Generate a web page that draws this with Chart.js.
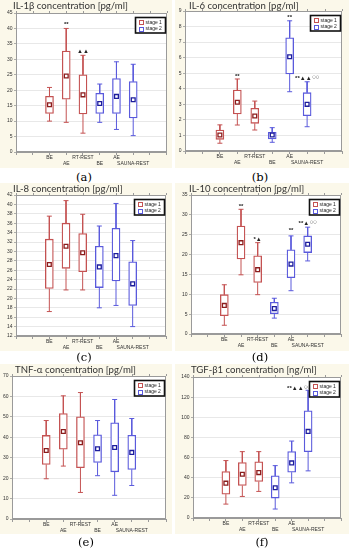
<!DOCTYPE html>
<html>
<head>
<meta charset="utf-8">
<script src="https://cdn.jsdelivr.net/npm/chart.js@4.4.1/dist/chart.umd.min.js"></script>
<style>
  html, body { margin: 0; padding: 0; background: #fff; }
  #fig { position: relative; width: 349px; height: 550px; overflow: hidden; }
  #fig canvas { position: absolute; }
  .ttl { position: absolute; font: 9.6px Lato, sans-serif; color: #333; white-space: nowrap; line-height: 11px; }
  .cap { position: absolute; width: 40px; margin-left: -20px; text-align: center; font: 11.5px "DejaVu Serif", serif; color: #000; line-height: 14px; }
</style>
</head>
<body>
<div id="fig"></div>
<script>
// groups on the x axis (same for every panel)
const groupLabels = ['BE', 'AE', 'RT-REST', 'BE', 'AE', 'SAUNA-REST'];
const groupPos = [2, 3, 4, 5, 6, 7];
const stageOf = [0, 0, 0, 1, 1, 1];
const stageNames = ['stage 1', 'stage 2'];

// every row: [low whisker, Q1, mean, Q3, high whisker]
const il1b = [[10, 12.5, 15.3, 18, 20.9], [9.6, 17.1, 24.6, 32.7, 40], [6.1, 12.3, 18.5, 25, 31.3],
              [9.6, 12.5, 15.7, 19, 22], [7.3, 12.5, 18, 23.8, 29.2], [5.3, 11, 16.9, 22.8, 28.4]];
const il6 = [[0.5, 0.75, 1.03, 1.35, 1.68], [1.67, 2.38, 3.13, 3.92, 4.63], [1.35, 1.78, 2.25, 2.74, 3.21],
             [0.56, 0.77, 1.03, 1.2, 1.5], [3.81, 4.95, 6.06, 7.28, 8.37], [1.56, 2.27, 3.0, 3.75, 4.45]];
const il8 = [[17.2, 22.1, 27.2, 32.6, 37.5], [21.8, 26.4, 31.1, 36.0, 40.8], [21.8, 25.7, 29.7, 33.8, 37.9],
             [18.0, 22.3, 26.7, 31.1, 35.4], [18.5, 23.7, 29.1, 34.9, 40.2], [14.0, 18.5, 23.1, 27.8, 32.3]];
const il10 = [[2.2, 4.6, 7.2, 9.9, 12.4], [14.9, 18.9, 23.0, 27.2, 31.4], [9.9, 13.0, 16.2, 19.7, 23.0],
              [4.0, 5.1, 6.4, 8.0, 9.0], [10.9, 14.2, 17.6, 21.2, 24.7], [18.4, 20.5, 22.6, 24.7, 26.9]];
const tnfa = [[19.7, 26.7, 33.5, 40.9, 48.2], [25.9, 34.2, 42.8, 51.6, 60.3], [13.0, 25.1, 37.3, 50.0, 61.9],
              [21.2, 27.7, 34.4, 41.2, 48.2], [11.6, 23.1, 35.0, 47.1, 58.5], [16.4, 24.3, 32.6, 41.0, 49.2]];
const tgfb1 = [[13.8, 23.7, 34.6, 46.1, 57.0], [21.4, 32.3, 43.5, 55.0, 65.9], [26.4, 36.2, 45.1, 55.7, 65.9],
               [8.9, 19.8, 30.0, 41.8, 52.0], [34.9, 45.5, 54.7, 65.9, 76.4], [46.8, 65.9, 86.0, 106.4, 126.8]];

// y axis: [min, max, step]
const il1bAxis = [0, 45, 5];
const il6Axis = [0, 9, 1];
const il8Axis = [12, 42, 2];
const il10Axis = [0, 35, 5];
const tnfaAxis = [0, 70, 10];
const tgfb1Axis = [0, 140, 20];

// significance marks: [x, y, text, superscript]
const il1bMarks = [[3, 41.3, '**', ''], [4, 32.6, '▲▲', '']];
const il6Marks = [[3, 4.8, '**', ''], [6, 8.6, '**', ''], [7, 4.65, '**▲▲', '○○']];
const il8Marks = [];
const il10Marks = [[3, 32.2, '**', ''], [4, 23.8, '*▲', ''], [6, 26.1, '**', ''], [7, 27.8, '**▲', '○○']];
const tnfaMarks = [];
const tgfb1Marks = [[6.45, 128.5, '**▲▲', '○○']];

const boxColors = ['#c45252', '#5a5adc'];
const meanColors = ['#8b1c1c', '#1c1c9c'];
const beige = '#fbf8ea';
const tickFont = { family: 'Liberation Sans', size: 5, lineHeight: 1.1 };

// canvas: [left, top, width, height], plot: [left, top, right, bottom] (page px)
const panels = [
  { title: 'IL-1β concentration [pg/ml]', cap: '(a)', stats: il1b, axis: il1bAxis, marks: il1bMarks,
    canvas: [0, 0, 172, 168], plot: [16, 13, 168, 152], titleAt: [13, 0], capAt: [84, 170] },
  { title: 'IL-6 concentration [pg/ml]', cap: '(b)', stats: il6, axis: il6Axis, marks: il6Marks,
    canvas: [175, 0, 174, 168], plot: [185, 11, 342, 151], titleAt: [189, 0], capAt: [260, 170] },
  { title: 'IL-8 concentration [pg/ml]', cap: '(c)', stats: il8, axis: il8Axis, marks: il8Marks,
    canvas: [0, 183, 172, 168], plot: [16, 195, 166, 336], titleAt: [13, 183], capAt: [84, 350] },
  { title: 'IL-10 concentration [pg/ml]', cap: '(d)', stats: il10, axis: il10Axis, marks: il10Marks,
    canvas: [175, 183, 174, 168], plot: [191, 195, 341, 334], titleAt: [189, 183], capAt: [260, 350] },
  { title: 'TNF-α concentration [pg/ml]', cap: '(e)', stats: tnfa, axis: tnfaAxis, marks: tnfaMarks,
    canvas: [0, 364, 172, 170], plot: [12, 376, 166, 519], titleAt: [15, 364], capAt: [86, 535] },
  { title: 'TGF-β1 concentration [ng/ml]', cap: '(f)', stats: tgfb1, axis: tgfb1Axis, marks: tgfb1Marks,
    canvas: [175, 364, 174, 170], plot: [193, 377, 341, 518], titleAt: [191, 364], capAt: [262, 535] }
];

const fig = document.getElementById('fig');

function xLabel(value) {
  const i = groupPos.indexOf(value);
  if (i < 0) return '';
  return i % 2 === 0 ? [groupLabels[i], ''] : ['', groupLabels[i]];
}

function buildDatasets(stats) {
  const sets = [];
  [0, 1].forEach(st => {
    const idx = stats.map((s, i) => i).filter(i => stageOf[i] === st);
    const col = boxColors[st];
    sets.push({
      type: 'bar', label: stageNames[st],
      data: idx.map(i => ({ x: groupPos[i], y: [stats[i][1], stats[i][3]] })),
      backgroundColor: '#fff', borderColor: col, borderWidth: 1.3, borderSkipped: false,
      barThickness: 8, grouped: false, order: 1
    });
    const whisk = [];
    const caps = [];
    idx.forEach(i => {
      const [lo, q1, , q3, hi] = stats[i];
      const x = groupPos[i];
      whisk.push({ x, y: hi }, { x, y: q3 }, { x, y: null }, { x, y: lo }, { x, y: q1 }, { x, y: null });
      caps.push({ x, y: hi }, { x, y: lo });
    });
    sets.push({
      type: 'line', label: '', data: whisk, borderColor: col, borderWidth: 1,
      pointRadius: 0, spanGaps: false, fill: false, order: 3
    });
    sets.push({
      type: 'line', label: '', data: caps, showLine: false, pointStyle: 'line',
      pointRadius: 2.5, pointBorderColor: col, pointBorderWidth: 1, order: 2
    });
    sets.push({
      type: 'line', label: '', data: idx.map(i => ({ x: groupPos[i], y: stats[i][2] })),
      showLine: false, pointStyle: 'rect', pointRadius: 2.7, pointBorderWidth: 1.3,
      pointBorderColor: meanColors[st], pointBackgroundColor: '#fff', order: 0
    });
  });
  return sets;
}

function makeFrame(p) {
  return {
    id: 'frame',
    beforeDraw(chart) {
      const { ctx, chartArea: a, width, height } = chart;
      ctx.save();
      ctx.fillStyle = beige;
      ctx.fillRect(0, 0, width, height);
      ctx.fillStyle = '#fff';
      ctx.fillRect(a.left, a.top, a.right - a.left, a.bottom - a.top);
      ctx.restore();
    },
    afterDraw(chart) {
      const { ctx, chartArea: a, scales } = chart;
      ctx.save();
      // frame round the plot
      ctx.strokeStyle = '#9a9a9a';
      ctx.lineWidth = 1;
      ctx.strokeRect(Math.round(a.left) + 0.5, Math.round(a.top) + 0.5,
        Math.round(a.right - a.left) - 1, Math.round(a.bottom - a.top) - 1);
      // small ticks on top edge
      for (let v = 0; v <= 9; v++) {
        const px = Math.round(scales.x.getPixelForValue(v)) + 0.5;
        ctx.beginPath();
        ctx.moveTo(px, a.top - 2);
        ctx.lineTo(px, a.top);
        ctx.stroke();
      }
      // significance marks
      ctx.fillStyle = '#222';
      ctx.textBaseline = 'middle';
      p.marks.forEach(([mx, my, txt, sup]) => {
        const mainFont = 'bold 6px "Liberation Sans", "DejaVu Sans", sans-serif';
        const supFont = '4px "DejaVu Sans", sans-serif';
        ctx.font = mainFont;
        const w1 = ctx.measureText(txt).width;
        ctx.font = supFont;
        const w2 = sup ? ctx.measureText(sup).width + 0.5 : 0;
        const cx = scales.x.getPixelForValue(mx);
        const cy = scales.y.getPixelForValue(my);
        const x0 = cx - (w1 + w2) / 2;
        ctx.textAlign = 'left';
        ctx.font = mainFont;
        ctx.fillText(txt, x0, cy);
        if (sup) {
          ctx.font = supFont;
          ctx.fillText(sup, x0 + w1 + 0.5, cy - 1.5);
        }
      });
      // legend box
      const bw = 30, bh = 15.5;
      const bx = Math.round(a.right - 2 - bw) + 0.5, by = Math.round(a.top + 4) + 0.5;
      ctx.fillStyle = '#fff';
      ctx.fillRect(bx, by, bw, bh);
      ctx.strokeStyle = '#111';
      ctx.lineWidth = 1.6;
      ctx.strokeRect(bx, by, bw, bh);
      ctx.font = '5px "Liberation Sans", sans-serif';
      ctx.textAlign = 'left';
      ctx.textBaseline = 'middle';
      chart.data.datasets.filter(d => d.type === 'bar').forEach((d, k) => {
        const rowY = by + 4.5 + k * 6.5;
        ctx.strokeStyle = d.borderColor;
        ctx.lineWidth = 1;
        ctx.strokeRect(Math.round(bx + 3) + 0.5, Math.round(rowY - 2) + 0.5, 4, 4);
        ctx.fillStyle = '#222';
        ctx.fillText(d.label, bx + 10, rowY + 0.5);
      });
      ctx.restore();
    }
  };
}

panels.forEach(p => {
  const [cl, ct, cw, ch] = p.canvas;
  const [pl, pt, pr, pb] = p.plot;
  const cv = document.createElement('canvas');
  cv.width = cw;
  cv.height = ch;
  cv.style.left = cl + 'px';
  cv.style.top = ct + 'px';
  cv.style.width = cw + 'px';
  cv.style.height = ch + 'px';
  fig.appendChild(cv);

  const t = document.createElement('div');
  t.className = 'ttl';
  t.textContent = p.title;
  t.style.left = p.titleAt[0] + 'px';
  t.style.top = p.titleAt[1] + 'px';
  fig.appendChild(t);

  const c = document.createElement('div');
  c.className = 'cap';
  c.textContent = p.cap;
  c.style.left = p.capAt[0] + 'px';
  c.style.top = p.capAt[1] + 'px';
  fig.appendChild(c);

  const [ymin, ymax, ystep] = p.axis;

  new Chart(cv, {
    type: 'bar',
    data: { datasets: buildDatasets(p.stats) },
    options: {
      responsive: false,
      animation: false,
      devicePixelRatio: 1,
      layout: { padding: { left: 0, top: pt - ct, right: cl + cw - pr, bottom: 0 } },
      plugins: {
        legend: { display: false },
        tooltip: { enabled: false },
        title: { display: false }
      },
      scales: {
        x: {
          type: 'linear', min: 0, max: 9, offset: false,
          afterFit: s => { s.height = ct + ch - pb; },
          grid: { drawOnChartArea: false, drawTicks: true, tickLength: 3, color: '#9a9a9a', offset: false },
          border: { color: '#9a9a9a' },
          ticks: {
            stepSize: 1, autoSkip: false, maxRotation: 0, minRotation: 0, padding: 0,
            font: tickFont, color: '#333', callback: xLabel
          }
        },
        y: {
          type: 'linear', min: ymin, max: ymax,
          afterFit: s => { s.width = pl - cl; },
          grid: { color: '#e2e2e2', lineWidth: 0.8, tickLength: 2, tickColor: '#9a9a9a' },
          border: { color: '#9a9a9a' },
          ticks: { stepSize: ystep, padding: 1.5, font: tickFont, color: '#333' }
        }
      }
    },
    plugins: [makeFrame(p)]
  });
});
</script>
</body>
</html>
